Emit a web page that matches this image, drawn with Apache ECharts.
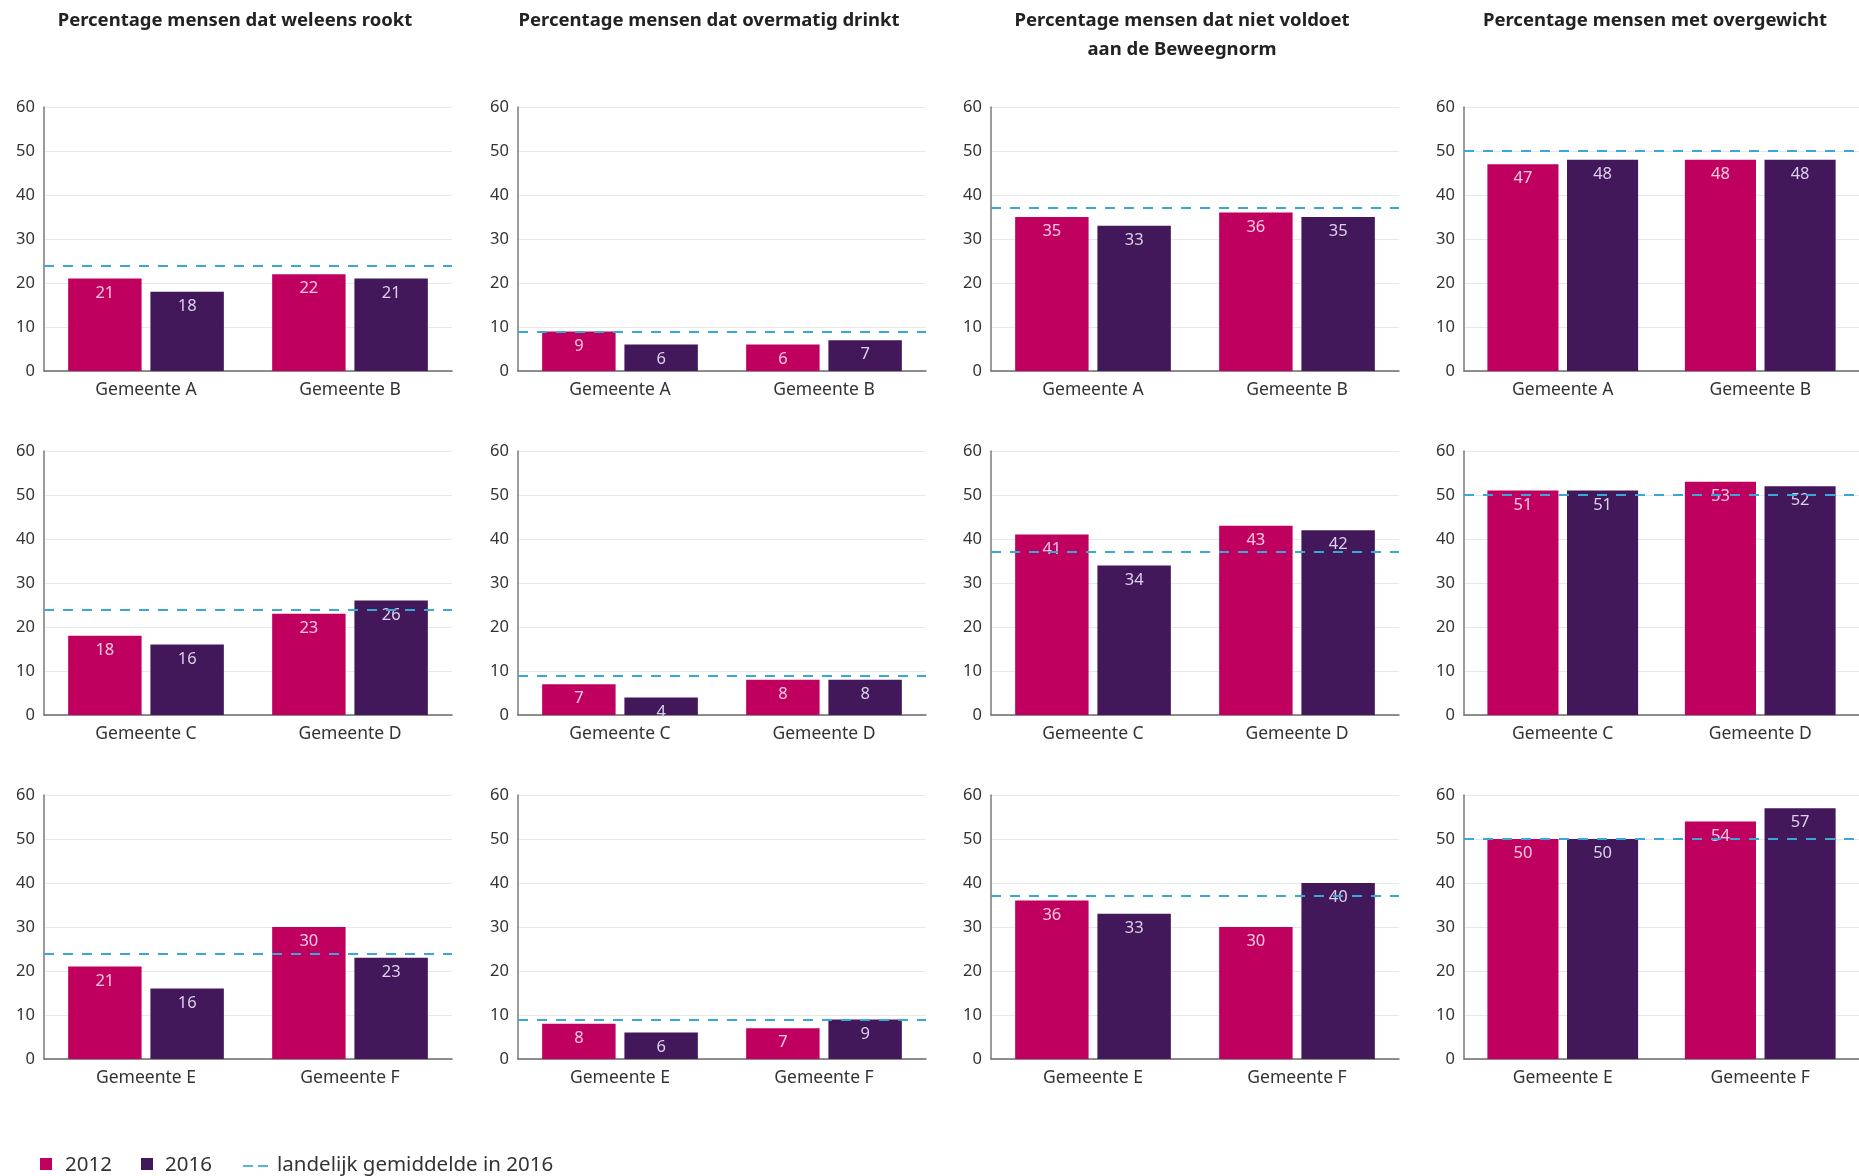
<!DOCTYPE html>
<html>
<head>
<meta charset="utf-8">
<script src="https://cdn.jsdelivr.net/npm/echarts@6/dist/echarts.min.js"></script>
<style>
  html, body { margin: 0; padding: 0; background: #fff; }
  #chart { width: 1859px; height: 1176px; }
</style>
</head>
<body>
<div id="chart"></div>
<script>
const titles = [
  'Percentage mensen dat weleens rookt',
  'Percentage mensen dat overmatig drinkt',
  'Percentage mensen dat niet voldoet\naan de Beweegnorm',
  'Percentage mensen met overgewicht'
];
const rowCategories = [
  ['Gemeente A', 'Gemeente B'],
  ['Gemeente C', 'Gemeente D'],
  ['Gemeente E', 'Gemeente F']
];
// landelijk gemiddelde 2016, one per column
const national2016 = [24, 9, 37, 50];
// [row][column] -> [first gemeente, second gemeente]
const values2012 = [
  [[21, 22], [9, 6], [35, 36], [47, 48]],
  [[18, 23], [7, 8], [41, 43], [51, 53]],
  [[21, 30], [8, 7], [36, 30], [50, 54]]
];
const values2016 = [
  [[18, 21], [6, 7], [33, 35], [48, 48]],
  [[16, 26], [4, 8], [34, 42], [51, 52]],
  [[16, 23], [6, 9], [33, 40], [50, 57]]
];
const yMax = 60;
const yStep = 10;

const C2012 = '#c0005f';
const C2016 = '#42185a';
const CAVG = '#3aa8d6';
const FONT = 'Noto Sans';

const colLeft = [44, 518, 991, 1464];
const rowTop = [107, 451, 795];
const gridW = 408;
const gridH = 264;

const grids = [], xAxes = [], yAxes = [], series = [], titleList = [];

titles.forEach((t, c) => {
  titleList.push({
    text: t,
    left: colLeft[c] + 191,
    top: 6,
    padding: 0,
    textAlign: 'center',
    textVerticalAlign: 'top',
    textStyle: {fontFamily: FONT, fontSize: 18.5, fontWeight: 'bold', color: '#222', lineHeight: 29}
  });
});

rowCategories.forEach((cats, r) => {
  for (let c = 0; c < 4; c++) {
    const i = grids.length;
    grids.push({left: colLeft[c], top: rowTop[r], width: gridW, height: gridH});
    xAxes.push({
      type: 'category',
      gridIndex: i,
      data: cats,
      axisTick: {show: false},
      axisLine: {lineStyle: {color: '#6b6b6b', width: 1.5}},
      axisLabel: {fontFamily: FONT, fontSize: 17.5, color: '#333', margin: 10}
    });
    yAxes.push({
      type: 'value',
      gridIndex: i,
      min: 0,
      max: yMax,
      interval: yStep,
      axisLine: {show: true, lineStyle: {color: '#7a7a7a', width: 1.5}},
      axisTick: {show: false},
      axisLabel: {fontFamily: FONT, fontSize: 16.5, color: '#333', margin: 9},
      splitLine: {lineStyle: {color: '#e8e8e8', width: 1}}
    });
    series.push({
      type: 'bar',
      name: '2012',
      xAxisIndex: i,
      yAxisIndex: i,
      data: values2012[r][c],
      barWidth: '36%',
      barGap: '12%',
      itemStyle: {color: C2012},
      label: {show: true, position: 'insideTop', distance: 6, color: '#f6c8e0', fontFamily: FONT, fontSize: 16.5}
    });
    series.push({
      type: 'bar',
      name: '2016',
      xAxisIndex: i,
      yAxisIndex: i,
      data: values2016[r][c],
      barWidth: '36%',
      barGap: '12%',
      itemStyle: {color: C2016},
      label: {show: true, position: 'insideTop', distance: 6, color: '#ddd0ec', fontFamily: FONT, fontSize: 16.5},
      markLine: {
        silent: true,
        symbol: ['none', 'none'],
        label: {show: false},
        lineStyle: {color: CAVG, type: [10, 9], width: 2},
        data: [{yAxis: national2016[c]}]
      }
    });
  }
});

const legendText = {fontFamily: FONT, fontSize: 20.5, fill: '#333', verticalAlign: 'middle'};

const chart = echarts.init(document.getElementById('chart'));
chart.setOption({
  animation: false,
  backgroundColor: '#fff',
  title: titleList,
  grid: grids,
  xAxis: xAxes,
  yAxis: yAxes,
  series: series,
  graphic: [
    {type: 'rect', shape: {x: 40, y: 1158, width: 12, height: 12}, style: {fill: C2012}},
    {type: 'text', x: 65, y: 1165, style: Object.assign({text: '2012'}, legendText)},
    {type: 'rect', shape: {x: 141, y: 1158, width: 12, height: 12}, style: {fill: C2016}},
    {type: 'text', x: 165, y: 1165, style: Object.assign({text: '2016'}, legendText)},
    {type: 'line', shape: {x1: 243, y1: 1166, x2: 268, y2: 1166}, style: {stroke: '#5ab4d9', lineWidth: 2, lineDash: [10, 5]}},
    {type: 'text', x: 277, y: 1165, style: Object.assign({text: 'landelijk gemiddelde in 2016'}, legendText)}
  ]
});
</script>
</body>
</html>
